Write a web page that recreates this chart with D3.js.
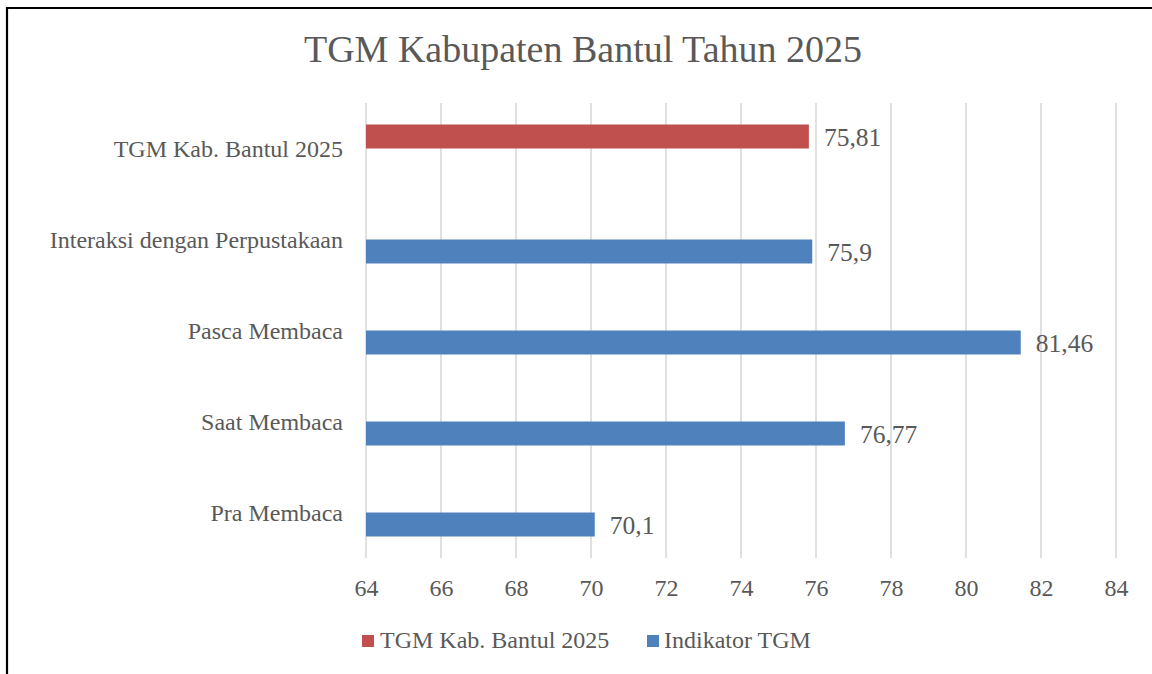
<!DOCTYPE html>
<html><head><meta charset="utf-8">
<script src="https://cdn.jsdelivr.net/npm/d3@7"></script>
<style>
html,body{margin:0;padding:0;background:#fff;}
svg text{font-family:"Liberation Serif","DejaVu Serif",serif;fill:#595959;}
</style></head>
<body>
<svg id="chart" width="1152" height="674"></svg>
<script>
const title = "TGM Kabupaten Bantul Tahun 2025";
const categories = ["TGM Kab. Bantul 2025","Interaksi dengan Perpustakaan","Pasca Membaca","Saat Membaca","Pra Membaca"];
const seriesNames = ["TGM Kab. Bantul 2025","Indikator TGM"];
const seriesColors = ["#C0504D","#4F81BD"];
// value per category for each series (null = no bar)
const tgmValues = [75.81, null, null, null, null];
const indikatorValues = [null, 75.9, 81.46, 76.77, 70.1];
const xTicks = [64,66,68,70,72,74,76,78,80,82,84];

const FONT = '"Liberation Serif","DejaVu Serif",serif';
const svg = d3.select("#chart");
// border
svg.append("path").attr("d","M7,674 L7,8 L1152,8").attr("fill","none").attr("stroke","#000").attr("stroke-width",2.2);

const plotLeft=366, plotRight=1116, plotTop=103, plotBottom=558;
const x = d3.scaleLinear().domain([64,84]).range([plotLeft,plotRight]);
const y = d3.scaleBand().domain(categories).range([plotTop,plotBottom]);
const inner = d3.scaleBand().domain(seriesNames).range([y.bandwidth()/2-24, y.bandwidth()/2+24]);

// gridlines
svg.append("g").selectAll("line").data(xTicks).join("line")
  .attr("x1",d=>x(d)).attr("x2",d=>x(d)).attr("y1",plotTop).attr("y2",plotBottom)
  .attr("stroke","#D9D9D9").attr("stroke-width",1.6);

// x axis labels
const xAxis = d3.axisBottom(x).tickValues(xTicks).tickSize(0).tickPadding(0);
const gx = svg.append("g").attr("transform",`translate(0,${plotBottom})`).call(xAxis);
gx.select(".domain").remove();
gx.selectAll("text").attr("dy",null).attr("y",38).style("font-size","24px").style("font-family",FONT).attr("fill","#595959");

// y axis labels
const yAxis = d3.axisLeft(y).tickSize(0).tickPadding(0);
const gy = svg.append("g").attr("transform",`translate(343,0)`).call(yAxis);
gy.select(".domain").remove();
gy.selectAll("text").attr("dy","0.35em").style("font-size","24px").style("font-family",FONT).attr("fill","#595959");

const series = [
  {name:seriesNames[0], color:seriesColors[0], values:tgmValues},
  {name:seriesNames[1], color:seriesColors[1], values:indikatorValues}
];
const fmt = v => String(v).replace(".",",");
series.forEach(s=>{
  const data = categories.map((c,i)=>({c, v:s.values[i]})).filter(d=>d.v!=null);
  const g = svg.append("g");
  g.selectAll("rect").data(data).join("rect")
    .attr("x",x(64)).attr("y",d=>y(d.c)+inner(s.name))
    .attr("width",d=>x(d.v)-x(64)).attr("height",inner.bandwidth())
    .attr("fill",s.color);
  g.selectAll("text").data(data).join("text")
    .attr("x",d=>x(d.v)+15).attr("y",d=>y(d.c)+inner(s.name)+inner.bandwidth()/2)
    .attr("dy","0.37em").style("font-size","25.5px").text(d=>fmt(d.v));
});

// title
svg.append("text").attr("x",583).attr("y",62).attr("text-anchor","middle")
  .style("font-size","38px").text(title);

// legend
const legendItems = [{name:seriesNames[0],color:seriesColors[0],x:362,tx:380},{name:seriesNames[1],color:seriesColors[1],x:647,tx:664}];
const lg = svg.append("g");
legendItems.forEach(it=>{
  lg.append("rect").attr("x",it.x).attr("y",635).attr("width",12).attr("height",12).attr("fill",it.color);
  lg.append("text").attr("x",it.tx).attr("y",648).style("font-size","24px").text(it.name);
});
</script>
</body></html>
